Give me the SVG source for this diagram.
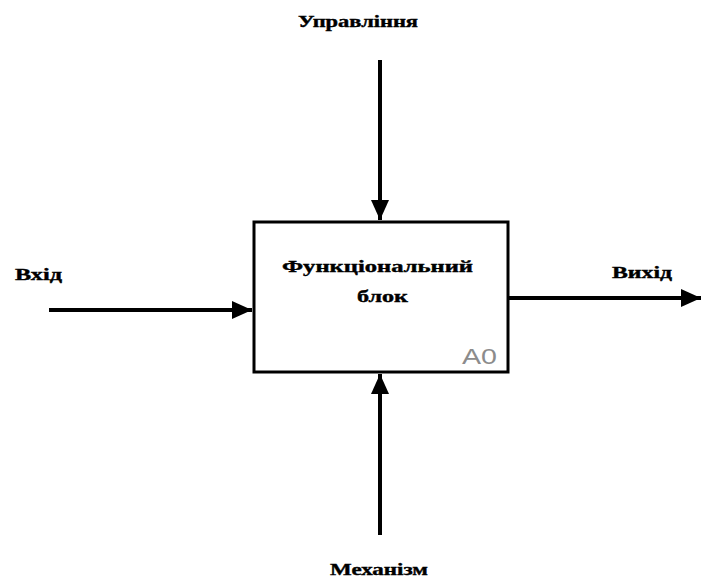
<svg xmlns="http://www.w3.org/2000/svg" width="701" height="580" viewBox="0 0 701 580">
  <style>
    .lbl { font-family: "Liberation Serif", "DejaVu Serif", serif; font-weight: bold; font-size: 17px; fill: #000; stroke: #000; stroke-width: 0.4; }
    .conn { stroke: #000; stroke-width: 4; fill: none; }
    .box { fill: #fff; stroke: #000; stroke-width: 3; }
    .num { font-family: "Liberation Sans", Arial, sans-serif; font-size: 22px; fill: #8c8c8c; }
  </style>
  <defs>
    <marker id="arrow" markerUnits="userSpaceOnUse" markerWidth="20" markerHeight="18" refX="20" refY="9" orient="auto">
      <path d="M0,0 L20,9 L0,18 Z" fill="#000"/>
    </marker>
  </defs>

  <g id="connectors">
    <line class="conn" x1="380" y1="60" x2="380" y2="220" marker-end="url(#arrow)"/>
    <line class="conn" x1="49" y1="310" x2="252" y2="310" marker-end="url(#arrow)"/>
    <line class="conn" x1="509" y1="298" x2="701" y2="298" marker-end="url(#arrow)"/>
    <line class="conn" x1="380" y1="535" x2="380" y2="374" marker-end="url(#arrow)"/>
  </g>

  <g id="block-a0">
    <rect class="box" x="254" y="222" width="254" height="150"/>
    <text class="lbl" x="282" y="272" textLength="191" lengthAdjust="spacingAndGlyphs">Функціональний</text>
    <text class="lbl" x="357" y="302" textLength="51" lengthAdjust="spacingAndGlyphs">блок</text>
    <text class="num" x="462" y="364" textLength="35" lengthAdjust="spacingAndGlyphs">A0</text>
  </g>

  <g id="label-control">
    <text class="lbl" x="298" y="27" textLength="120" lengthAdjust="spacingAndGlyphs">Управління</text>
  </g>
  <g id="label-input">
    <text class="lbl" x="15" y="280" textLength="47" lengthAdjust="spacingAndGlyphs">Вхід</text>
  </g>
  <g id="label-output">
    <text class="lbl" x="612" y="278" textLength="60" lengthAdjust="spacingAndGlyphs">Вихід</text>
  </g>
  <g id="label-mechanism">
    <text class="lbl" x="330" y="575" textLength="98" lengthAdjust="spacingAndGlyphs">Механізм</text>
  </g>
</svg>
